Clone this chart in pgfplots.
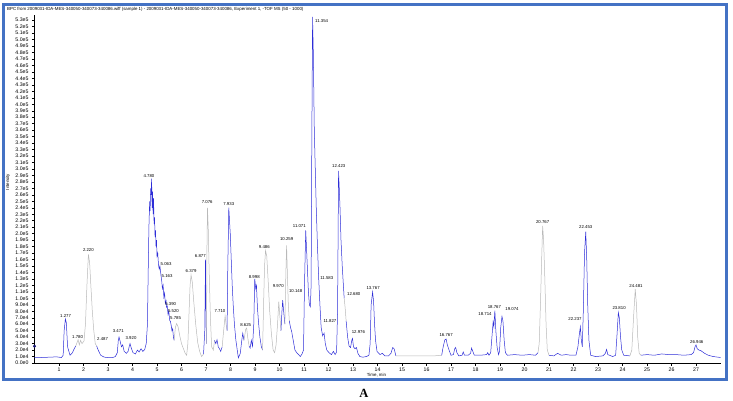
\documentclass[border=0pt]{standalone}
\usepackage{pgfplots}
\pgfplotsset{compat=1.18}
\usepackage{fontspec}
\setmainfont{Liberation Sans}
\newfontfamily\serifA{Liberation Serif}
\definecolor{frameblue}{RGB}{68,114,196}
\definecolor{trace}{RGB}{45,45,215}
\definecolor{traceg}{RGB}{185,185,185}
\definecolor{dotblue}{RGB}{20,20,110}
\begin{document}
\begin{tikzpicture}
\useasboundingbox (0pt,0pt) rectangle (733pt,-401pt);
\draw[frameblue, line width=3pt] (3.5pt,-4.5pt) rectangle (726.5pt,-379pt);
\node[anchor=base west, font=\fontsize{4.4}{5}\selectfont, inner sep=0] at (7pt,-10.5pt) {BPC from 2009031-IDA-MES-340050-340073-340086.wiff (sample 1) - 2009031-IDA-MES-340050-340073-340086, Experiment 1, -TOF MS (50 - 1000)};
\node[rotate=90, font=\fontsize{4.4}{5}\selectfont, inner sep=0] at (8pt,-182pt) {Intensity};
\node[font=\fontsize{4.4}{5}\selectfont, inner sep=0] at (376.5pt,-375.3pt) {Time, min};
\node[font=\serifA\bfseries\fontsize{12.5}{14}\selectfont, inner sep=0] at (364pt,-393pt) {A};
\begin{axis}[
  at={(34.5pt,-363pt)}, anchor=south west,
  scale only axis, width=686pt, height=348pt,
  xmin=0, xmax=28, ymin=0, ymax=53.8,
  axis x line*=bottom, axis y line*=left,
  axis line style={-, black, line width=0.5pt},
  clip=false,
  xtick={1,...,27},
  ytick={0,...,53},
  yticklabels={0.0e0,1.0e4,2.0e4,3.0e4,4.0e4,5.0e4,6.0e4,7.0e4,8.0e4,9.0e4,1.0e5,1.1e5,1.2e5,1.3e5,1.4e5,1.5e5,1.6e5,1.7e5,1.8e5,1.9e5,2.0e5,2.1e5,2.2e5,2.3e5,2.4e5,2.5e5,2.6e5,2.7e5,2.8e5,2.9e5,3.0e5,3.1e5,3.2e5,3.3e5,3.4e5,3.5e5,3.6e5,3.7e5,3.8e5,3.9e5,4.0e5,4.1e5,4.2e5,4.3e5,4.4e5,4.5e5,4.6e5,4.7e5,4.8e5,4.9e5,5.0e5,5.1e5,5.2e5,5.3e5},
  tick align=outside, major tick length=2.5pt,
  tick style={black, line width=0.4pt},
  ticklabel style={font=\fontsize{5.2}{5.5}\selectfont},
  xticklabel style={yshift=1.2pt},
  /pgf/number format/assume math mode=true,
  every axis plot/.append style={line width=0.5pt},
]
\addplot[trace] coordinates {(0,0.85)(0.3,0.85)(0.6,0.9)(0.9,0.95)(1.1,0.85)(1.17,1.2)(1.21,5)(1.26,6.8)(1.3,6.2)(1.35,2.5)(1.45,1.2)(1.55,1.6)(1.62,2.2)(1.68,2.6)};
\addplot[traceg] coordinates {(1.68,2.6)(1.74,3.2)(1.78,3.6)(1.83,2.8)(1.88,3.5)(1.94,3.0)(2.02,3.4)(2.08,6)(2.14,12)(2.2,16.8)(2.25,15.5)(2.3,12)(2.36,8)(2.42,5)(2.48,3.0)(2.54,2.6)};
\addplot[trace] coordinates {(2.54,2.6)(2.6,2.0)(2.7,1.2)(2.85,0.9)(3.0,0.85)(3.2,0.85)(3.3,1.0)(3.38,1.6)(3.42,3.5)(3.45,4.0)(3.5,3.3)(3.55,2.5)(3.6,2.8)(3.66,1.8)(3.75,1.5)(3.82,1.8)(3.87,2.6)(3.9,3.0)(3.95,2.3)(4.02,1.6)(4.12,1.4)(4.2,2.0)(4.27,1.7)(4.35,2.2)(4.42,1.8)(4.5,2.1)(4.56,3.0)(4.61,6)(4.64,14)(4.67,21)(4.70,25)(4.72,23.5)(4.74,27)(4.76,26)(4.78,28.5)(4.80,24)(4.82,26.5)(4.84,23)(4.86,25.5)(4.88,21.5)(4.90,22.5)(4.92,19.5)(4.94,20.5)(4.96,18)(4.98,19)(5.00,16.5)(5.03,17)(5.06,15.2)(5.09,14.5)(5.12,15)(5.16,13.6)(5.19,12.8)(5.22,11.5)(5.25,12)(5.28,10.2)(5.31,10.8)(5.34,9.2)(5.37,9.6)(5.39,8.6)(5.42,8.8)(5.45,7.5)(5.48,8)(5.52,6.6)(5.55,6.4)(5.58,5.8)(5.61,5.0)(5.64,5.3)(5.67,4.0)(5.70,3.5)};
\addplot[traceg] coordinates {(5.70,3.5)(5.75,5.5)(5.8,6.1)(5.86,5.6)(5.93,4.2)(6.0,3.0)(6.08,2.2)(6.15,1.5)(6.21,1.2)(6.26,3)(6.3,7)(6.35,12)(6.39,13.6)(6.44,12.5)(6.5,9.5)(6.58,6)(6.66,3.2)(6.74,1.8)(6.82,1.0)(6.9,1.4)};
\addplot[trace] coordinates {(6.9,1.4)(6.95,5)(6.98,16)(7.0,8)(7.02,3)};
\addplot[traceg] coordinates {(7.02,3)(7.04,18)(7.06,24)(7.09,21)(7.13,14)(7.18,7)(7.23,2.5)(7.3,2.0)(7.35,3.5)};
\addplot[trace] coordinates {(7.35,3.5)(7.4,3.0)(7.45,3.6)(7.5,2.5)(7.55,2.2)(7.6,1.8)(7.66,2.5)};
\addplot[traceg] coordinates {(7.66,2.5)(7.72,5)(7.78,7.3)(7.82,6)(7.86,5)};
\addplot[trace] coordinates {(7.86,5)(7.89,15)(7.93,24)(7.96,22)(7.99,20)(8.03,16)(8.07,12)(8.11,9)(8.16,6)(8.22,3.5)(8.32,0.8)(8.4,1.5)(8.46,3.5)(8.5,4.6)(8.55,3.5)};
\addplot[traceg] coordinates {(8.55,3.5)(8.62,5.2)(8.66,5.4)(8.7,4)(8.76,2.6)};
\addplot[trace] coordinates {(8.76,2.6)(8.8,2.3)(8.85,3.5)(8.9,2.6)(8.95,6)(8.99,13)(9.03,11.5)(9.06,12)(9.1,8.5)(9.15,6)(9.2,4)(9.26,2.5)(9.31,2.0)};
\addplot[traceg] coordinates {(9.31,2.0)(9.35,9)(9.39,15)(9.43,17.4)(9.48,16.5)(9.54,12.5)(9.6,8)(9.67,4.5)(9.74,2.0)(9.8,1.6)(9.86,2.8)(9.92,6)(9.97,9.5)(10.02,7)(10.06,5)};
\addplot[trace] coordinates {(10.06,5)(10.1,8)(10.13,9.7)(10.17,8)(10.22,6)};
\addplot[traceg] coordinates {(10.22,6)(10.26,14)(10.29,18.2)(10.32,14)(10.36,9)(10.4,6.5)};
\addplot[trace] coordinates {(10.4,6.5)(10.45,5.5)(10.5,4.8)(10.56,3.5)(10.63,2.0)(10.7,1.6)(10.78,1.3)(10.85,1.0)(10.92,1.4)(10.98,2)(11.02,12)(11.07,20.5)(11.1,18)(11.14,14.5)(11.18,11)(11.22,9)(11.26,8.7)(11.29,12)(11.32,35)(11.35,53.5)(11.38,48)(11.42,36)(11.46,30)(11.5,24)(11.55,18)(11.6,13)(11.65,9)(11.7,5.5)(11.76,4.2)(11.82,4.6)(11.87,3)(11.93,2.0)(12.02,1.6)(12.12,1.3)(12.2,1.8)(12.27,1.3)(12.33,1.7)(12.37,8)(12.41,29.7)(12.44,27)(12.47,24)(12.51,19)(12.56,15)(12.6,12.5)(12.64,10)};
\addplot[traceg] coordinates {(12.64,10)(12.68,8.5)(12.72,6.5)};
\addplot[trace] coordinates {(12.72,6.5)(12.78,4)(12.84,2.6)(12.9,2.4)(12.95,3.5)(12.98,3.8)(13.02,2.5)(13.08,2.2)(13.14,2.4)(13.2,1.5)(13.28,1.0)(13.4,0.9)(13.55,1.0)(13.65,1.2)(13.7,3)(13.74,9)(13.8,11)(13.84,9.5)(13.88,6)(13.92,3.5)(13.98,1.8)(14.1,1.3)(14.2,1.5)(14.3,1.1)(14.45,1.1)(14.55,1.5)(14.62,2.4)(14.68,2.2)(14.75,1.1)};
\addplot[traceg] coordinates {(14.75,1.1)(15.2,1.1)(15.8,1.1)(16.3,1.1)(16.62,1.2)};
\addplot[trace] coordinates {(16.62,1.2)(16.68,2.5)(16.75,3.6)(16.8,3.7)(16.85,2.8)(16.92,2.0)(17.0,1.2)(17.1,1.3)(17.15,2.2)(17.19,2.4)(17.24,1.6)(17.32,1.1)(17.45,1.2)(17.5,1.7)(17.55,1.2)(17.7,1.2)(17.8,1.5)(17.84,2.3)(17.88,1.9)(17.95,1.2)(18.2,1.2)(18.45,1.3)(18.5,1.6)(18.55,1.2)(18.62,1.6)(18.67,4)(18.72,6.4)(18.75,5.6)(18.79,8.1)(18.83,5)(18.88,2.5)(18.94,1.3)(18.98,1.8)(19.03,5.5)(19.08,7.2)(19.12,6.5)(19.17,3.5)(19.22,1.6)(19.3,1.2)(19.6,1.3)(19.9,1.2)(20.2,1.3)(20.45,1.2)(20.55,1.6)};
\addplot[traceg] coordinates {(20.55,1.6)(20.6,3)(20.65,9)(20.7,16)(20.74,21.2)(20.78,19)(20.83,13)(20.88,6)(20.93,2)(21.0,1.2)};
\addplot[trace] coordinates {(21.0,1.2)(21.2,1.1)(21.35,1.5)(21.5,1.2)(21.7,1.3)(21.9,1.2)(22.1,1.2)(22.18,2.5)(22.24,4.5)(22.28,5.6)(22.32,3.5)(22.36,2.5)(22.4,8)(22.45,17)(22.5,20.3)(22.54,16)(22.58,9)(22.63,3.5)(22.7,1.2)(22.9,1.0)(23.2,1.1)(23.3,1.5)(23.35,2.1)(23.4,1.3)(23.6,1.0)(23.72,1.2)(23.77,4)(23.83,7.8)(23.87,7.0)(23.92,4)(23.97,2)(24.05,1.2)(24.3,1.1)};
\addplot[traceg] coordinates {(24.3,1.1)(24.38,2)(24.45,7)(24.52,11.4)(24.57,9)(24.62,4)(24.68,1.5)(24.75,1.2)};
\addplot[trace] coordinates {(24.75,1.2)(25.0,1.3)(25.3,1.2)(25.6,1.4)(25.9,1.3)(26.2,1.3)(26.5,1.2)(26.8,1.3)(26.9,1.6)(26.96,2.5)(27.0,2.8)(27.05,2.2)(27.12,2.0)(27.2,1.9)(27.35,1.5)(27.5,1.2)(27.7,1.0)(27.9,0.9)(28.0,0.85)};
\addplot[only marks, mark=*, mark size=1.3pt, dotblue] coordinates {(0,2.6)};
\begin{scope}[every node/.style={font=\fontsize{4.3}{5}\selectfont, inner sep=0}]
\node at (axis cs:1.27,7.26) {1.277};
\node at (axis cs:1.76,4.07) {1.780};
\node at (axis cs:2.2,17.4) {2.220};
\node at (axis cs:2.78,3.66) {2.487};
\node at (axis cs:3.42,4.95) {3.471};
\node at (axis cs:3.94,3.86) {3.920};
\node at (axis cs:4.67,28.9) {4.780};
\node at (axis cs:5.37,15.3) {5.063};
\node at (axis cs:5.41,13.4) {5.163};
\node at (axis cs:5.56,9.1) {5.390};
\node at (axis cs:5.67,8.1) {5.520};
\node at (axis cs:5.76,7.0) {5.785};
\node at (axis cs:6.39,14.2) {6.379};
\node at (axis cs:6.77,16.6) {6.877};
\node at (axis cs:7.05,24.9) {7.076};
\node at (axis cs:7.57,8.1) {7.710};
\node at (axis cs:7.93,24.6) {7.933};
\node at (axis cs:8.62,5.9) {8.625};
\node at (axis cs:8.97,13.3) {8.998};
\node at (axis cs:9.38,18.0) {9.486};
\node at (axis cs:9.95,11.9) {9.970};
\node at (axis cs:10.66,11.2) {10.148};
\node at (axis cs:10.29,19.1) {10.259};
\node at (axis cs:10.81,21.2) {11.071};
\node at (axis cs:11.72,52.9) {11.354};
\node at (axis cs:11.93,13.2) {11.583};
\node at (axis cs:12.06,6.5) {11.827};
\node at (axis cs:12.42,30.5) {12.423};
\node at (axis cs:13.03,10.6) {12.680};
\node at (axis cs:13.22,4.8) {12.976};
\node at (axis cs:13.82,11.6) {13.767};
\node at (axis cs:16.8,4.3) {16.767};
\node at (axis cs:18.39,7.57) {18.714};
\node at (axis cs:18.77,8.7) {18.767};
\node at (axis cs:19.49,8.3) {19.074};
\node at (axis cs:20.74,21.8) {20.767};
\node at (axis cs:22.06,6.85) {22.237};
\node at (axis cs:22.5,21.0) {22.453};
\node at (axis cs:23.86,8.5) {23.810};
\node at (axis cs:24.55,11.9) {24.481};
\node at (axis cs:27.03,3.3) {26.946};
\end{scope}
\end{axis}
\end{tikzpicture}
\end{document}
